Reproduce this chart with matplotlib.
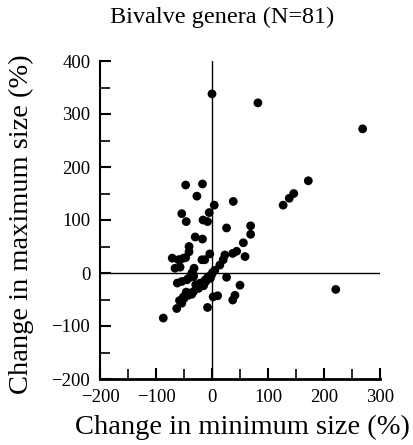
import matplotlib
matplotlib.use("Agg")
import matplotlib.pyplot as plt
from matplotlib.ticker import MultipleLocator

title = "Bivalve genera (N=81)"
xlabel = "Change in minimum size (%)"
ylabel = "Change in maximum size (%)"

min_change = [0, 82, 269, 172, 146, 138, 127, 221, -47, -17, -27, 38, 4, -5, -16, -8,
              26, 69, 69, 56, -54, -46, -30, -17, -41, -41, -4, -71, -57, -47, -18, -13,
              -66, -57, -32, -36, 1, 23, 20, 14, 37, 44, 59, 26, 50, -62, -54, -45, -33,
              -7, -12, -18, -24, -33, -42, -50, -54, -63, -87, -8, 2, 10, 37, 41, -11,
              -51, -60, -33, -42, -1, -21, -39, -27, -51, 5, -3, -15, -29, -46, -36, -58]
max_change = [338, 321, 272, 174, 150, 141, 128, -31, 166, 168, 145, 135, 128, 114, 100, 97,
              85, 89, 73, 57, 112, 97, 68, 64, 50, 40, 36, 28, 25, 29, 25, 25,
              9, 11, 9, 0, 1, 34, 25, 15, 37, 41, 31, -8, -23, -19, -16, -13, -7,
              -7, -13, -23, -29, -35, -42, -48, -57, -67, -85, -65, -45, -43, -51, -42, -16,
              28, 25, -4, -10, -4, -19, -38, -29, -45, 5, -10, -24, -22, -36, -40, -52]

xlim = (-200, 300)
ylim = (-200, 400)

fig = plt.figure(figsize=(4.14, 4.45), dpi=100)
ax = fig.add_axes([100/414, 1-379/445, 280/414, 318/445])
serif = ["Liberation Serif", "DejaVu Serif"]

ax.axhline(0, color="black", lw=1.0, zorder=1)
ax.axvline(0, color="black", lw=1.0, zorder=1)
ax.scatter(min_change, max_change, s=40, color="black", edgecolors="none", zorder=3)

ax.set_xlim(*xlim)
ax.set_ylim(*ylim)
for s in ["top", "right"]:
    ax.spines[s].set_visible(False)
ax.spines["left"].set_linewidth(1.5)
ax.spines["bottom"].set_linewidth(2.0)

ax.xaxis.set_major_locator(MultipleLocator(100))
ax.xaxis.set_minor_locator(MultipleLocator(50))
ax.yaxis.set_major_locator(MultipleLocator(100))
ax.yaxis.set_minor_locator(MultipleLocator(50))
ax.tick_params(which="major", direction="in", length=8, width=1.5, pad=7, labelsize=13.5)
ax.tick_params(which="minor", direction="in", length=7, width=1.2)
for lab in ax.get_xticklabels() + ax.get_yticklabels():
    lab.set_family(serif)

fig.text(242/414, 1-427/445, xlabel, family=serif, fontsize=20.5, ha="center", va="center")
fig.text(21/414, 1-224/445, ylabel, family=serif, fontsize=20.5, ha="center", va="center",
         rotation=90)
fig.text(222/414, 1-17/445, title, family=serif, fontsize=17.5, ha="center", va="center")

fig.savefig("out.png", dpi=100)
